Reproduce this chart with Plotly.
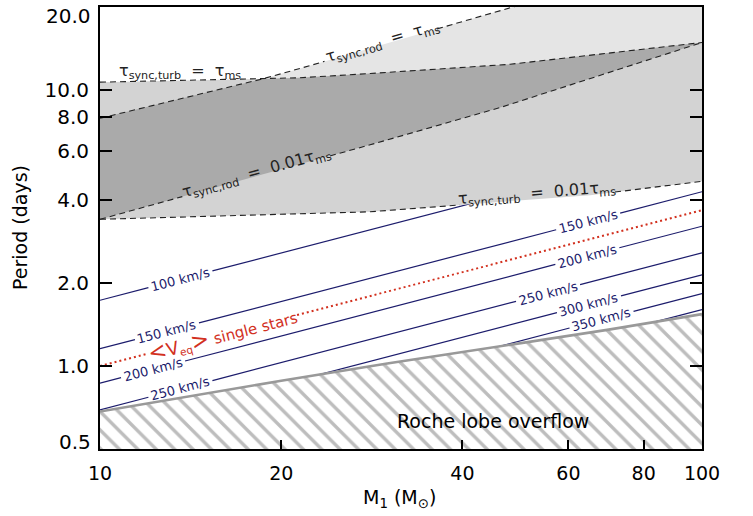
import numpy as np
import plotly.graph_objects as go

# ---------------- data ----------------
x_tick_vals = [10, 20, 40, 60, 80, 100]
x_tick_text = ["10", "20", "40", "60", "80", "100"]
x_top_tick_vals = [20, 30, 40, 60, 80]
y_tick_vals = [1, 2, 4, 6, 8, 10]
y_tick_text = ["1.0", "2.0", "4.0", "6.0", "8.0", "10.0"]

# constant equatorial-velocity lines (straight in log-log): P at M=10 and M=100
vel_kms = [100, 150, 200, 250, 300, 350, 400]
vel_M = [10, 100]
vel_P_M10 = [1.73, 1.155, 0.866, 0.693, 0.577, 0.495, 0.433]
vel_P_M100 = [6.42, 4.28, 3.21, 2.57, 2.14, 1.83, 1.60]

# <V_eq> of single stars
veq_M = [10, 100]
veq_P = [1.00, 3.67]

# Roche lobe overflow boundary
roche_M = [10, 20, 30, 50, 70, 100]
roche_P = [0.684, 0.884, 1.02, 1.21, 1.354, 1.542]

# synchronisation time-scale boundaries
turb_ms_M = [10, 18.6, 21.5, 28.1, 48.0, 67.7, 100]
turb_ms_P = [10.68, 10.97, 11.08, 11.48, 12.40, 13.5, 14.87]
turb_001_M = [10, 28.1, 65.2, 100]
turb_001_P = [3.40, 3.62, 4.16, 4.67]
rod_ms_M = [10, 18.6, 21.5, 48.5, 100]
rod_ms_P = [7.9, 10.97, 11.98, 20.0, 31.5]
rod_001_M = [10, 28.1, 46.2, 100]
rod_001_P = [3.40, 6.33, 8.64, 14.87]
cross_M = 18.6  # where tau_sync,rod = tau_ms meets tau_sync,turb = tau_ms

# label placements (mass at label centre)
vel_labels = [(100, 13.6), (150, 12.92), (200, 12.25), (250, 13.6),
              (150, 64.7), (200, 64.5), (250, 55.5), (300, 64.9), (350, 68.1)]
vel_hidden_gaps = [(400, 71.5)]
veq_label_M = 15.95

# ---------------- geometry ----------------
W, H = 753, 516
ML, MR, MT, MB = 100, 51, 5, 67
PW, PH = W - ML - MR, H - MT - MB
XR = [1.0, 2.0]
YR = [np.log10(0.5), np.log10(20.0)]
ppd_x = PW / (XR[1] - XR[0])
ppd_y = PH / (YR[1] - YR[0])

NAVY = "#1c1c6c"
RED = "#d2301e"
FONT = "DejaVu Sans"


def lp(Ms, Ps, m):
    return float(10 ** np.interp(np.log10(m), np.log10(Ms), np.log10(Ps)))


def angle(Ms, Ps, m, d=0.03):
    p0 = lp(Ms, Ps, m * 10 ** -d)
    p1 = lp(Ms, Ps, m * 10 ** d)
    s = (np.log10(p1) - np.log10(p0)) / (2 * d) * ppd_y / ppd_x
    return float(-np.degrees(np.arctan(s)))


def with_gaps(Ms, Ps, gaps):
    pts = list(zip(Ms, Ps))
    for g0, g1 in gaps:
        pts += [(g0, lp(Ms, Ps, g0)), (g1, lp(Ms, Ps, g1))]
    pts.sort(key=lambda t: t[0])
    xs, ys = [], []
    for m, p in pts:
        if any(g0 < m < g1 for g0, g1 in gaps):
            continue
        xs.append(m)
        ys.append(p)
        if any(abs(m - g0) < 1e-9 for g0, _ in gaps):
            xs.append(None)
            ys.append(None)
    return xs, ys


def gap_around(mc, half_px):
    d = half_px / ppd_x
    return (mc * 10 ** -d, mc * 10 ** d)


fig = go.Figure()
annotations = []

# ---- constant velocity lines ----
for i, v in enumerate(vel_kms):
    Ps = [vel_P_M10[i], vel_P_M100[i]]
    gaps = [gap_around(mc, 32) for (vv, mc) in vel_labels if vv == v]
    gaps += [gap_around(mc, 32) for (vv, mc) in vel_hidden_gaps if vv == v]
    gaps.sort()
    xs, ys = with_gaps(vel_M, Ps, gaps)
    fig.add_trace(go.Scatter(x=xs, y=ys, mode="lines",
                             line=dict(color=NAVY, width=1.2),
                             hoverinfo="skip", showlegend=False))
    for (vv, mc) in vel_labels:
        if vv == v:
            annotations.append(dict(
                x=np.log10(mc), y=np.log10(lp(vel_M, Ps, mc)),
                text=f"{v} km/s", showarrow=False,
                textangle=angle(vel_M, Ps, mc),
                font=dict(family=FONT, size=13, color=NAVY),
                xanchor="center", yanchor="middle"))

# ---- <V_eq> single stars ----
xs, ys = with_gaps(veq_M, veq_P, [(11.97, 21.25)])
fig.add_trace(go.Scatter(x=xs, y=ys, mode="lines",
                         line=dict(color=RED, width=2, dash="2px,3px"),
                         hoverinfo="skip", showlegend=False))
annotations.append(dict(
    x=np.log10(veq_label_M), y=np.log10(lp(veq_M, veq_P, veq_label_M)),
    text="<span style='font-size:22px'>&lt;</span><span style='font-size:18px'>V</span><sub>eq</sub>"
         "<span style='font-size:22px'>&gt;</span> single stars",
    showarrow=False, textangle=angle(veq_M, veq_P, veq_label_M),
    font=dict(family=FONT, size=15, color=RED),
    xanchor="center", yanchor="middle"))

# ---- grey shaded bands ----
LIGHT, MEDIUM, DARK = "#e5e5e5", "#d3d3d3", "#aaaaaa"
fig.add_trace(go.Scatter(
    x=rod_ms_M + rod_001_M[::-1], y=rod_ms_P + rod_001_P[::-1],
    fill="toself", fillcolor=LIGHT, mode="none",
    hoverinfo="skip", showlegend=False))
fig.add_trace(go.Scatter(
    x=turb_ms_M + turb_001_M[::-1], y=turb_ms_P + turb_001_P[::-1],
    fill="toself", fillcolor=MEDIUM, mode="none",
    hoverinfo="skip", showlegend=False))
up_M = [m for m in rod_ms_M if m <= cross_M] + [m for m in turb_ms_M if m > cross_M]
up_P = [p for m, p in zip(rod_ms_M, rod_ms_P) if m <= cross_M] + \
       [p for m, p in zip(turb_ms_M, turb_ms_P) if m > cross_M]
fig.add_trace(go.Scatter(
    x=up_M + rod_001_M[::-1], y=up_P + rod_001_P[::-1],
    fill="toself", fillcolor=DARK, mode="none",
    hoverinfo="skip", showlegend=False))

# ---- Roche lobe overflow (hatched) ----
fig.add_trace(go.Scatter(
    x=roche_M + [100, 10], y=roche_P + [0.3, 0.3],
    fill="toself", fillcolor="white", mode="none",
    fillpattern=dict(shape="\\", size=13, solidity=0.26,
                     fgcolor="#7c7c7c", bgcolor="white", fillmode="overlay"),
    hoverinfo="skip", showlegend=False))
fig.add_trace(go.Scatter(x=roche_M, y=roche_P, mode="lines",
                         line=dict(color="#999999", width=2.6),
                         hoverinfo="skip", showlegend=False))

# ---- dashed boundaries ----
DASH = dict(color="#222222", width=1.1, dash="6px,4px")
tau_lines = [
    (turb_ms_M, turb_ms_P, []),
    (turb_001_M, turb_001_P, [(39.6, 71.7)]),
    (rod_ms_M, rod_ms_P, [(23.6, 36.3)]),
    (rod_001_M, rod_001_P, [(13.7, 24.1)]),
]
for Ms, Ps, gaps in tau_lines:
    xs, ys = with_gaps(Ms, Ps, gaps)
    fig.add_trace(go.Scatter(x=xs, y=ys, mode="lines", line=DASH,
                             hoverinfo="skip", showlegend=False))

SP = "\u00a0"
tau_labels = [
    (13.6, 11.65, 0.0, f"τ<sub>sync,turb</sub>{SP}{SP}={SP}{SP}τ<sub>ms</sub>"),
    (29.5, 14.96, angle(rod_ms_M, rod_ms_P, 30), f"τ<sub>sync,rod</sub>{SP}{SP}={SP}{SP}τ<sub>ms</sub>"),
    (18.23, 5.03, angle(rod_001_M, rod_001_P, 18), f"τ<sub>sync,rod</sub>{SP}{SP}={SP}{SP}0.01τ<sub>ms</sub>"),
    (53.2, 4.23, angle(turb_001_M, turb_001_P, 53), f"τ<sub>sync,turb</sub>{SP}{SP}={SP}{SP}0.01τ<sub>ms</sub>"),
]
for m, p, a, t in tau_labels:
    annotations.append(dict(x=np.log10(m), y=np.log10(p), text=t, showarrow=False,
                            textangle=a, font=dict(family=FONT, size=16, color="#222222"),
                            xanchor="center", yanchor="middle"))

annotations.append(dict(x=np.log10(44.97), y=np.log10(0.63), text="Roche lobe overflow",
                        showarrow=False, font=dict(family=FONT, size=19, color="black"),
                        xanchor="center", yanchor="middle"))

# edge y tick labels (shifted inward as in the reference)
annotations.append(dict(xref="paper", yref="paper", x=-0.0116, y=(PH - 9) / PH,
                        text="20.0", showarrow=False, xanchor="right", yanchor="middle",
                        font=dict(family=FONT, size=20, color="black")))
annotations.append(dict(xref="paper", yref="paper", x=-0.0116, y=7.5 / PH,
                        text="0.5", showarrow=False, xanchor="right", yanchor="middle",
                        font=dict(family=FONT, size=20, color="black")))

# axis titles
annotations.append(dict(xref="paper", yref="paper", x=0.497, y=-50 / PH,
                        text="M<sub>1</sub> (M<sub>⊙</sub>)", showarrow=False,
                        xanchor="center", yanchor="middle",
                        font=dict(family=FONT, size=19, color="black")))
annotations.append(dict(xref="paper", yref="paper", x=-80 / PW, y=0.5,
                        text="Period (days)", showarrow=False, textangle=-90,
                        xanchor="center", yanchor="middle",
                        font=dict(family=FONT, size=19, color="black")))

# top-axis tick marks (the top axis carries a tick at 30 as well)
shapes = [dict(type="line", xref="x", yref="paper",
               x0=np.log10(v), x1=np.log10(v), y0=1, y1=1 - 9 / PH,
               line=dict(color="black", width=2)) for v in x_top_tick_vals]

fig.update_layout(
    width=W, height=H,
    margin=dict(l=ML, r=MR, t=MT, b=MB, pad=0),
    paper_bgcolor="white", plot_bgcolor="white",
    showlegend=False,
    xaxis=dict(type="log", range=XR, tickvals=x_tick_vals, ticktext=x_tick_text,
               ticks="inside", ticklen=9, tickwidth=2, tickcolor="black",
               showline=True, linewidth=2, linecolor="black", mirror=True,
               showgrid=False, zeroline=False, ticklabelstandoff=6,
               tickfont=dict(family=FONT, size=19, color="black")),
    yaxis=dict(type="log", range=YR, tickvals=y_tick_vals, ticktext=y_tick_text,
               ticks="inside", ticklen=12, tickwidth=2, tickcolor="black",
               showline=True, linewidth=2, linecolor="black", mirror="ticks",
               showgrid=False, zeroline=False, ticklabelstandoff=5,
               tickfont=dict(family=FONT, size=20, color="black")),
    annotations=annotations,
    shapes=shapes,
)

fig.write_html("out.html")
